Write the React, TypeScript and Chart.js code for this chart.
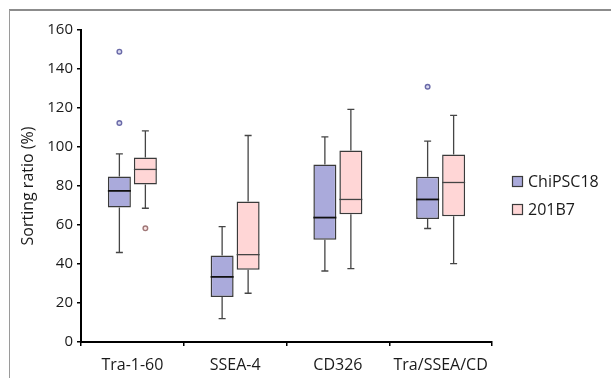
import React, { useEffect, useRef } from "react";
import { Chart, registerables } from "chart.js";

Chart.register(...registerables);

const categories = ["Tra-1-60", "SSEA-4", "CD326", "Tra/SSEA/CD"];
const seriesNames = ["ChiPSC18", "201B7"];

const chiMin = [45.9, 12, 36.4, 58.2];
const chiQ1 = [69, 23.1, 52.5, 63.1];
const chiMedian = [77.5, 33.4, 63.8, 73.1];
const chiQ3 = [84.9, 44.3, 91, 84.7];
const chiMax = [96.5, 59.2, 105.2, 103];
const chiOutliers = [[148.9, 112.3], [], [], [130.9]];

const b7Min = [68.6, 25, 37.6, 40.2];
const b7Q1 = [80.8, 37.1, 65.5, 64.5];
const b7Median = [88.5, 44.8, 73.1, 81.8];
const b7Q3 = [94.6, 72, 98.2, 96.2];
const b7Max = [108.3, 105.9, 119.3, 116.2];
const b7Outliers = [[58.3], [], [], []];

const yMin = 0;
const yMax = 160;
const yStep = 20;

const FONT = "'Open Sans', 'Noto Sans', sans-serif";

const boxPlugin = {
  id: "boxExtras",
  afterDatasetsDraw(chart: any) {
    const ctx = chart.ctx;
    const y = chart.scales.y;
    chart.data.datasets.forEach((ds: any, di: number) => {
      const meta = chart.getDatasetMeta(di);
      const st = ds.stats;
      meta.data.forEach((el: any, i: number) => {
        const x = el.x;
        const w = el.width;
        const pQ1 = y.getPixelForValue(st.q1[i]);
        const pQ3 = y.getPixelForValue(st.q3[i]);
        const pMin = y.getPixelForValue(st.min[i]);
        const pMax = y.getPixelForValue(st.max[i]);
        const pMed = y.getPixelForValue(st.median[i]);
        ctx.save();
        ctx.strokeStyle = "#454545";
        ctx.lineWidth = 1.3;
        const cap = 3.5;
        ctx.beginPath();
        ctx.moveTo(x, pQ3);
        ctx.lineTo(x, pMax);
        ctx.moveTo(x - cap, pMax);
        ctx.lineTo(x + cap, pMax);
        ctx.moveTo(x, pQ1);
        ctx.lineTo(x, pMin);
        ctx.moveTo(x - cap, pMin);
        ctx.lineTo(x + cap, pMin);
        ctx.stroke();
        ctx.strokeStyle = st.medianColor;
        ctx.lineWidth = st.medianWidth;
        ctx.beginPath();
        ctx.moveTo(x - w / 2, pMed);
        ctx.lineTo(x + w / 2, pMed);
        ctx.stroke();
        (st.outliers[i] || []).forEach((v: number) => {
          const py = y.getPixelForValue(v);
          ctx.beginPath();
          ctx.arc(x, py, 2.3, 0, Math.PI * 2);
          ctx.fillStyle = st.outlierFill;
          ctx.fill();
          ctx.lineWidth = 1.4;
          ctx.strokeStyle = st.outlierStroke;
          ctx.stroke();
        });
        ctx.restore();
      });
    });
  },
};

const framePlugin = {
  id: "frameLegend",
  beforeDraw(chart: any) {
    const ctx = chart.ctx;
    ctx.save();
    ctx.fillStyle = "#ffffff";
    ctx.fillRect(0, 0, chart.width, chart.height);
    ctx.strokeStyle = "#8c8c8c";
    ctx.lineWidth = 2;
    ctx.beginPath();
    ctx.moveTo(9, 10);
    ctx.lineTo(chart.width, 10);
    ctx.stroke();
    ctx.lineWidth = 1;
    ctx.strokeStyle = "#9a9a9a";
    ctx.beginPath();
    ctx.moveTo(9.5, 10);
    ctx.lineTo(9.5, chart.height);
    ctx.stroke();
    ctx.restore();
  },
  afterDraw(chart: any) {
    const ctx = chart.ctx;
    ctx.save();
    chart.data.datasets.forEach((ds: any, i: number) => {
      const bx = 512;
      const by = 176 + i * 28;
      ctx.fillStyle = ds.backgroundColor;
      ctx.fillRect(bx, by, 11, 11);
      ctx.strokeStyle = "#3a3a3a";
      ctx.lineWidth = 1.2;
      ctx.strokeRect(bx + 0.5, by + 0.5, 10, 10);
      ctx.fillStyle = "#1a1a1a";
      ctx.font = `16px ${FONT}`;
      ctx.textBaseline = "middle";
      ctx.textAlign = "left";
      ctx.fillText(ds.label, 528, by + 6);
    });
    ctx.restore();
  },
};

export default function App() {
  const ref = useRef<HTMLCanvasElement | null>(null);
  useEffect(() => {
    if (!ref.current) return;
    const mk = (
      label: string,
      q1: number[],
      q3: number[],
      min: number[],
      max: number[],
      median: number[],
      outliers: number[][],
      bg: string,
      medianColor: string,
      medianWidth: number,
      outlierFill: string,
      outlierStroke: string
    ) => ({
      label,
      data: categories.map((_, i) => [q1[i], q3[i]]),
      backgroundColor: bg,
      borderColor: "#3a3a3a",
      borderWidth: 1.5,
      borderSkipped: false,
      categoryPercentage: 0.506,
      barPercentage: 0.885,
      stats: { q1, q3, min, max, median, outliers, medianColor, medianWidth, outlierFill, outlierStroke },
    });
    const chart = new Chart(ref.current, {
      type: "bar",
      data: {
        labels: categories,
        datasets: [
          mk(seriesNames[0], chiQ1, chiQ3, chiMin, chiMax, chiMedian, chiOutliers, "#aaaadb", "#111", 1.8, "#d8d8ee", "#6a6aa8"),
          mk(seriesNames[1], b7Q1, b7Q3, b7Min, b7Max, b7Median, b7Outliers, "#ffd6d6", "#444", 1.3, "#fbe4e4", "#a07878"),
        ] as any,
      },
      options: {
        animation: false,
        responsive: false,
        devicePixelRatio: 1,
        layout: { padding: { top: 30, right: 119, left: 0, bottom: 0 } },
        plugins: { legend: { display: false }, tooltip: { enabled: false } },
        scales: {
          x: {
            type: "category",
            offset: true,
            grid: { display: true, drawOnChartArea: false, drawTicks: true, tickLength: 4, color: "#000", lineWidth: 1.5 },
            border: { display: true, color: "#000", width: 2 },
            ticks: { color: "#1a1a1a", font: { family: FONT, size: 16 }, padding: 10, maxRotation: 0 },
            afterFit: (s: any) => { s.height = 36; },
          },
          y: {
            min: yMin,
            max: yMax,
            ticks: { stepSize: yStep, color: "#1a1a1a", font: { family: FONT, size: 15 }, padding: 4 },
            grid: { display: true, drawOnChartArea: false, drawTicks: true, tickLength: 4, color: "#000", lineWidth: 1.5 },
            border: { display: true, color: "#000", width: 2 },
            title: { display: true, text: "Sorting ratio (%)", color: "#1a1a1a", font: { family: FONT, size: 16 }, padding: { top: 19, bottom: 0 } },
            afterFit: (s: any) => { s.width = 81; },
          },
        },
      },
      plugins: [boxPlugin, framePlugin],
    } as any);
    return () => chart.destroy();
  }, []);
  return (
    <div style={{ position: "fixed", left: 0, top: 0, width: 611, height: 378, overflow: "hidden", background: "#fff" }}>
      <canvas ref={ref} width={611} height={378} style={{ width: 611, height: 378, display: "block" }} />
    </div>
  );
}
